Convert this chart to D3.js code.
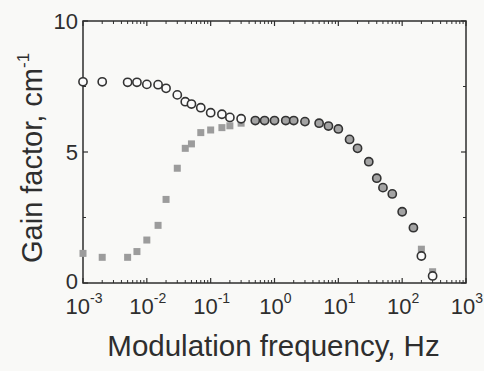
<!DOCTYPE html>
<html><head><meta charset="utf-8">
<script src="https://cdn.jsdelivr.net/npm/d3@7"></script>
<style>html,body{margin:0;padding:0;background:#f9f9f7;}svg{display:block;}</style>
</head><body><svg id="c" width="484" height="371"></svg>
<script>
const circleFreq = [0.001,0.002,0.005,0.007,0.01,0.015,0.02,0.03,0.04,0.05,0.07,0.1,0.15,0.2,0.3,0.5,0.7,1,1.5,2,3,5,7,10,15,20,30,40,50,70,100,150,200,300];
const circleGain = [7.68,7.68,7.66,7.66,7.58,7.57,7.43,7.18,6.92,6.83,6.69,6.5,6.44,6.32,6.27,6.2,6.2,6.2,6.2,6.2,6.16,6.1,5.99,5.88,5.48,5.14,4.63,4.0,3.64,3.4,2.72,2.11,1.03,0.27];
const squareFreq = [0.001,0.002,0.005,0.007,0.01,0.015,0.02,0.03,0.04,0.05,0.07,0.1,0.15,0.2,0.3,0.5,0.7,1,1.5,2,3,5,7,10,15,20,30,40,50,70,100,150,200,300];
const squareGain = [1.13,0.98,0.98,1.2,1.64,2.2,3.19,4.38,5.14,5.31,5.74,5.84,5.93,6.0,6.1,6.2,6.2,6.2,6.2,6.2,6.16,6.1,5.99,5.88,5.48,5.14,4.63,4.0,3.64,3.4,2.72,2.11,1.29,0.43];
const xMajor = [-3,-2,-1,0,1,2,3];
const yMajor = [0,5,10];
const yMinor = [2.5,7.5];
const xLabel = "Modulation frequency, Hz";
const yLabel = "Gain factor, cm";
const yLabelSup = "-1";

const L=83,R=466,T=21,B=283;
const svg=d3.select("#c");
const x=d3.scaleLog().domain([1e-3,1e3]).range([L,R]);
const y=d3.scaleLinear().domain([0,10]).range([B,T]);
const ink="#2e2e2e";

const minorX=[];
xMajor.slice(0,-1).forEach(e=>{for(let k=2;k<10;k++)minorX.push(k*Math.pow(10,e));});
const majorX=xMajor.map(e=>Math.pow(10,e));

const g=svg.append("g");
[[B,-1],[T,1]].forEach(([yy,dir])=>{
  g.selectAll(null).data(majorX).enter().append("line")
   .attr("x1",d=>x(d)).attr("x2",d=>x(d)).attr("y1",yy).attr("y2",yy+dir*5)
   .attr("stroke",ink).attr("stroke-width",1.2);
  g.selectAll(null).data(minorX).enter().append("line")
   .attr("x1",d=>x(d)).attr("x2",d=>x(d)).attr("y1",yy).attr("y2",yy+dir*3)
   .attr("stroke",ink).attr("stroke-width",1);
});
[[L,1],[R,-1]].forEach(([xx,dir])=>{
  g.selectAll(null).data(yMajor).enter().append("line")
   .attr("y1",d=>y(d)).attr("y2",d=>y(d)).attr("x1",xx).attr("x2",xx+dir*5)
   .attr("stroke",ink).attr("stroke-width",1.2);
  g.selectAll(null).data(yMinor).enter().append("line")
   .attr("y1",d=>y(d)).attr("y2",d=>y(d)).attr("x1",xx).attr("x2",xx+dir*3)
   .attr("stroke",ink).attr("stroke-width",1);
});
g.append("rect").attr("x",L).attr("y",T).attr("width",R-L).attr("height",B-T)
 .attr("fill","none").attr("stroke",ink).attr("stroke-width",1.5);

const font="Liberation Sans, Arial, sans-serif";
svg.selectAll(null).data(yMajor).enter().append("text")
 .attr("x",L-5).attr("y",d=>y(d)+(d===0?5.5:7.5)).attr("text-anchor","end")
 .attr("font-family",font).attr("font-size",22).attr("fill",ink).text(d=>d);
const xl=svg.selectAll(null).data(xMajor).enter().append("text")
 .attr("x",d=>x(Math.pow(10,d))+1).attr("y",314).attr("text-anchor","middle")
 .attr("font-family",font).attr("font-size",22).attr("fill",ink);
xl.append("tspan").text("10");
xl.append("tspan").attr("dy",-11).attr("font-size",14).text(d=>d>0?String(d):(d===0?"0":"-"+Math.abs(d)));

svg.append("text").attr("x",(L+R)/2-1).attr("y",356).attr("text-anchor","middle")
 .attr("font-family",font).attr("font-size",29.5).attr("fill",ink).text(xLabel);
const yt=svg.append("text").attr("transform","translate(42,263) rotate(-90)")
 .attr("font-family",font).attr("font-size",29).attr("fill",ink);
yt.append("tspan").text(yLabel);
yt.append("tspan").attr("dy",-13).attr("font-size",17).text(yLabelSup);

const sq=squareFreq.map((f,i)=>({f,v:squareGain[i]}));
const S=7;
svg.selectAll(null).data(sq).enter().append("rect")
 .attr("x",d=>x(d.f)-S/2).attr("y",d=>y(d.v)-S/2).attr("width",S).attr("height",S)
 .attr("fill","#9c9c9c");
const ci=circleFreq.map((f,i)=>{
  const j=squareFreq.indexOf(f);
  const overlap=j>=0 && Math.abs(squareGain[j]-circleGain[i])<0.05;
  return {f,v:circleGain[i],overlap};
});
svg.selectAll(null).data(ci).enter().append("circle")
 .attr("cx",d=>x(d.f)).attr("cy",d=>y(d.v)).attr("r",4.1)
 .attr("fill",d=>d.overlap?"#a3a3a3":"#fbfbfb").attr("stroke","#333").attr("stroke-width",1.6);
</script></body></html>
